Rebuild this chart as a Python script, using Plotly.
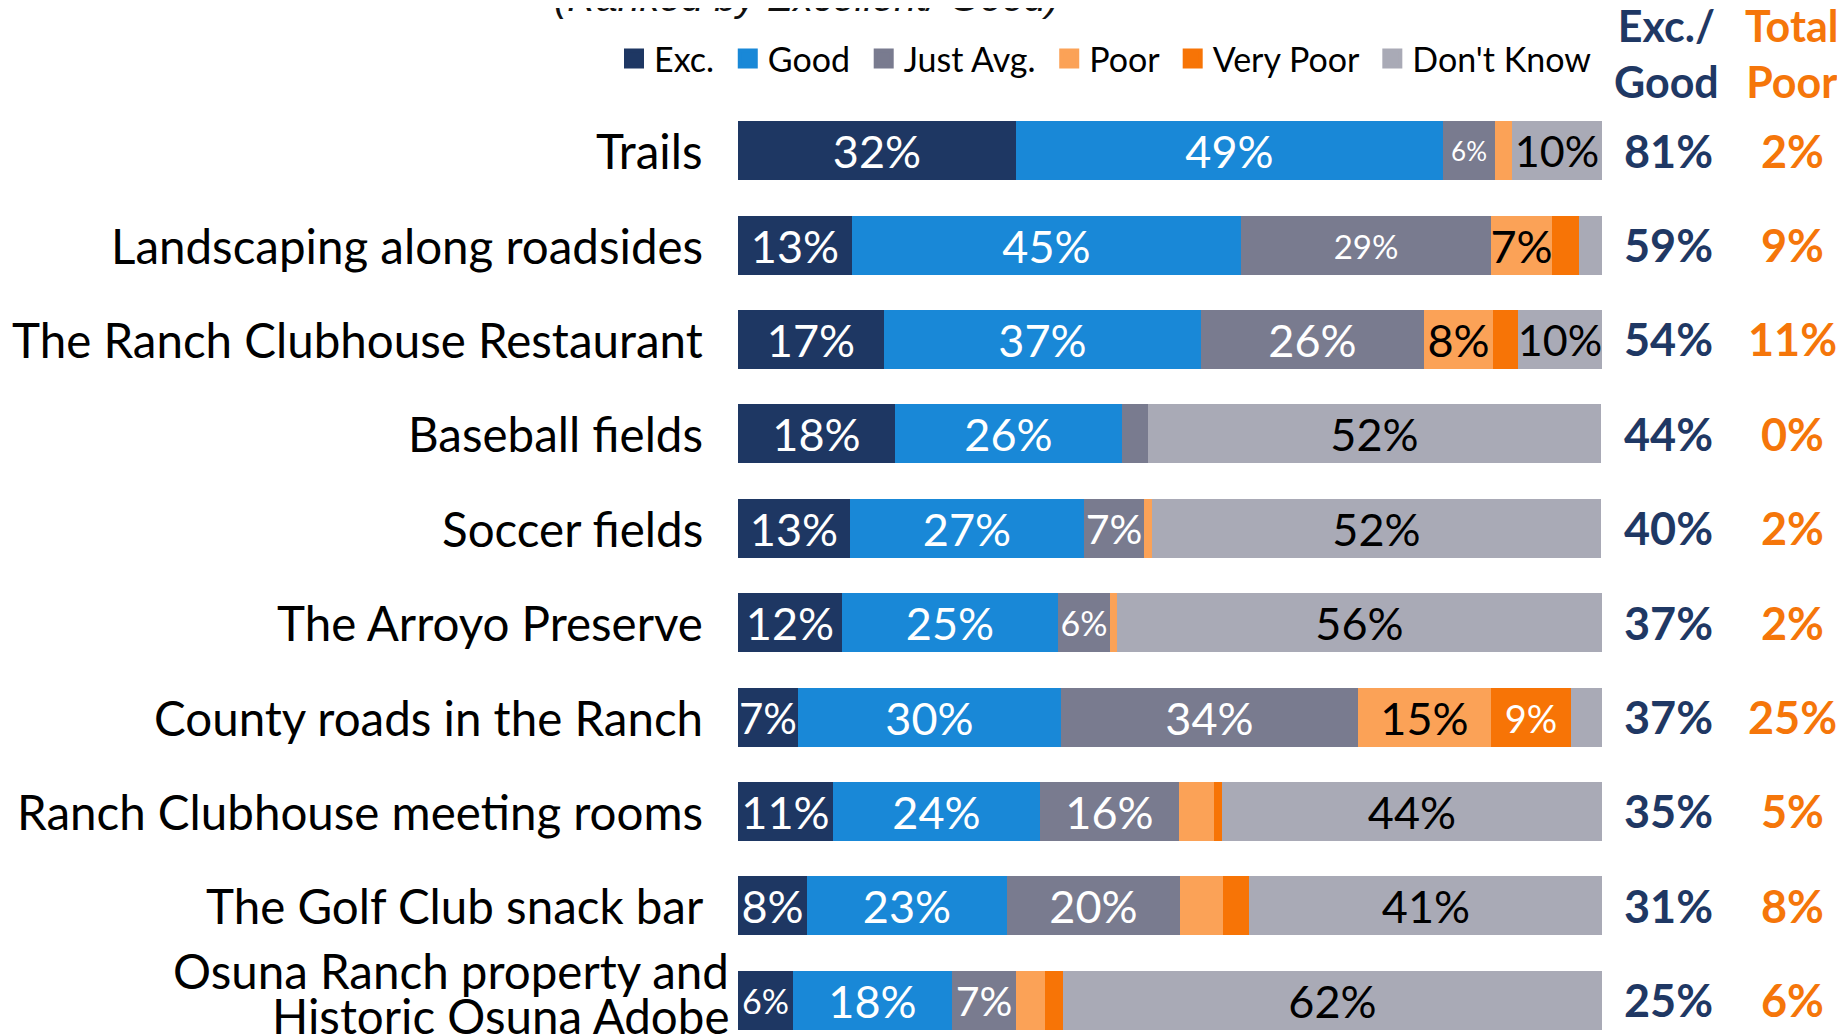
import plotly.graph_objects as go

# ---------------- data ----------------
categories = [
    "Trails",
    "Landscaping along roadsides",
    "The Ranch Clubhouse Restaurant",
    "Baseball fields",
    "Soccer fields",
    "The Arroyo Preserve",
    "County roads in the Ranch",
    "Ranch Clubhouse meeting rooms",
    "The Golf Club snack bar",
    "Osuna Ranch property and<br>Historic Osuna Adobe",
]
series_names = ["Exc.", "Good", "Just Avg.", "Poor", "Very Poor", "Don't Know"]
exc       = [32.2, 13.2, 16.9, 18.2, 13.0, 12.0, 7.0, 11.0, 8.0, 6.4]
good      = [49.4, 45.0, 36.7, 26.2, 27.0, 25.0, 30.4, 24.0, 23.1, 18.4]
just_avg  = [6.0, 29.0, 25.8, 3.1, 7.0, 6.0, 34.4, 16.0, 20.0, 7.4]
poor      = [2.0, 7.0, 8.0, 0.0, 0.9, 0.9, 15.4, 4.1, 5.0, 3.3]
very_poor = [0.0, 3.1, 2.9, 0.0, 0.0, 0.0, 9.2, 0.9, 3.1, 2.1]
dont_know = [10.4, 2.7, 9.7, 52.4, 52.0, 56.1, 3.6, 44.0, 40.9, 62.4]
exc_good   = [81, 59, 54, 44, 40, 37, 37, 35, 31, 25]
total_poor = [2, 9, 11, 0, 2, 2, 25, 5, 8, 6]
title_text = "(Ranked by Excellent/ Good)"
col_headers = ["Exc./<br>Good", "Total<br>Poor"]

# ---------------- style ----------------
FONT = "Lato, 'Open Sans', sans-serif"
NAVY = "#1F3864"
ORANGE = "#F5760A"
colors = ["#1E3763", "#1988D7", "#797B8F", "#FBA257", "#F77406", "#A9AAB6"]
text_colors = ["white", "white", "white", "black", "white", "black"]
LABEL_SIZE = 45
small_labels = {(0, 2): 26, (1, 2): 33, (5, 2): 34, (9, 0): 34,
                (4, 2): 41, (6, 4): 38, (9, 2): 41, (6, 0): 42,
                (0, 5): 43, (2, 5): 43}

W, H = 1845, 1035
OFF = 8  # page body margin
def px_x(v):
    return (v - OFF) / W
def px_y(v):
    return 1 - (v - OFF) / H

bar_left, bar_right = 738 - OFF, 1602 - OFF
row0_px, row_step = 150.6 - OFF, 94.4
n = len(categories)
y_top = -row0_px / row_step
y_bot = (H - row0_px) / row_step
y_range = [y_bot, y_top]

all_series = [exc, good, just_avg, poor, very_poor, dont_know]
fig = go.Figure()
for si, (name, vals) in enumerate(zip(series_names, all_series)):
    texts = [f"{round(v)}%" if v >= 5.5 else "" for v in vals]
    sizes = [small_labels.get((ri, si), LABEL_SIZE) for ri in range(n)]
    fig.add_trace(go.Bar(
        name=name,
        x=vals,
        y=list(range(n)),
        orientation="h",
        marker=dict(color=colors[si], line=dict(width=0)),
        width=0.625,
        text=texts,
        textposition="inside",
        insidetextanchor="middle",
        textangle=0,
        constraintext="none",
        textfont=dict(family=FONT, size=sizes, color=text_colors[si]),
        hoverinfo="skip",
        showlegend=False,
    ))
    # legend entry (square marker)
    legend_name = name + ("\u00a0" if si < len(series_names) - 1 else "")
    fig.add_trace(go.Scatter(
        x=[None], y=[None], mode="markers", name=legend_name,
        marker=dict(symbol="square", size=16, color=colors[si],
                    line=dict(width=4, color=colors[si])),
        showlegend=True,
    ))

annotations = []
CAT_SIZE = 47.5
# category labels
for i, cat in enumerate(categories):
    lines = cat.split("<br>")
    if len(lines) == 1:
        annotations.append(dict(
            x=px_x(705), xref="paper", y=i, yref="y", text=cat,
            xanchor="right", yanchor="middle", showarrow=False,
            font=dict(family=FONT, size=CAT_SIZE, color="black")))
    else:
        for k, ln in enumerate(lines):
            annotations.append(dict(
                x=px_x(731), xref="paper", y=i, yref="y", text=ln,
                xanchor="right", yanchor="middle", showarrow=False,
                yshift=30 - k * 45,
                font=dict(family=FONT, size=CAT_SIZE, color="black")))

# right-hand columns
VAL_SIZE = 45
for i in range(n):
    annotations.append(dict(
        x=px_x(1668), xref="paper", y=i, yref="y", text=f"{exc_good[i]}%",
        xanchor="center", yanchor="middle", showarrow=False,
        font=dict(family=FONT, size=VAL_SIZE, color=NAVY, weight="bold")))
    annotations.append(dict(
        x=px_x(1792), xref="paper", y=i, yref="y", text=f"{total_poor[i]}%",
        xanchor="center", yanchor="middle", showarrow=False,
        font=dict(family=FONT, size=VAL_SIZE, color=ORANGE, weight="bold")))
for hx, htxt, hc in [(1666, col_headers[0], NAVY), (1791, col_headers[1], ORANGE)]:
    annotations.append(dict(
        x=px_x(hx), xref="paper", y=px_y(54), yref="paper", text=htxt,
        xanchor="center", yanchor="middle", showarrow=False,
        font=dict(family=FONT, size=43, color=hc, weight="bold")))

# title (mostly cut off at the top)
annotations.append(dict(
    x=px_x(806), xref="paper", y=px_y(20), yref="paper", text=f"<i>{title_text}</i>",
    xanchor="center", yanchor="bottom", showarrow=False, borderpad=0,
    font=dict(family="Liberation Sans, Arial, sans-serif", size=39.5, color="#111111")))

fig.update_layout(
    width=W, height=H,
    margin=dict(l=0, r=0, t=0, b=0),
    paper_bgcolor="white", plot_bgcolor="white",
    barmode="stack",
    bargap=0,
    xaxis=dict(domain=[bar_left / W, bar_right / W], range=[0, 100], visible=False, fixedrange=True),
    yaxis=dict(range=y_range, visible=False, fixedrange=True),
    legend=dict(orientation="h", x=px_x(1597), xanchor="right", y=px_y(59), yanchor="middle",
                traceorder="normal",
                font=dict(family=FONT, size=34, color="black"), bgcolor="rgba(0,0,0,0)",
                itemwidth=30, tracegroupgap=0),
    annotations=annotations,
    font=dict(family=FONT),
)

fig.write_html("out.html")
